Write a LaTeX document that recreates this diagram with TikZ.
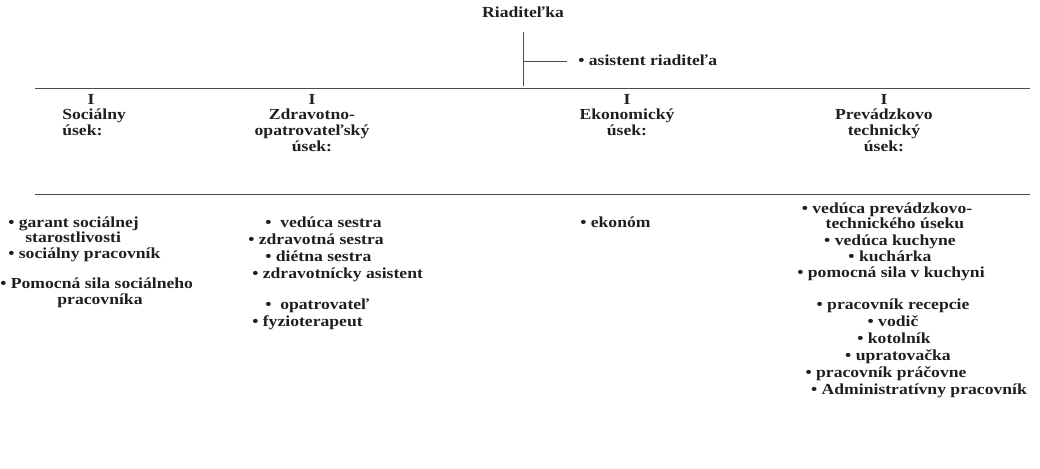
\documentclass[tikz,border=0pt]{standalone}
\usepackage{fontspec}
\setmainfont{Liberation Serif}[FakeStretch=1.15]

\tikzset{
  txt/.style={font=\fontsize{10.9}{11.3}\selectfont\bfseries, inner sep=0pt, text=black!88},
  ln/.style={black!70, line width=0.6pt}
}

\begin{document}
\begin{tikzpicture}[x=0.025cm,y=-0.025cm]
	\useasboundingbox (0,0) rectangle (1040,468);
	\node[txt,anchor=base] (riad) at (523,17) {Riaditeľka};
	\node[txt,anchor=base west] (asist) at (578,65) {• asistent riaditeľa};
	\coordinate (vtop) at (523,32);
	\coordinate (vbot) at (523,86);
	\coordinate (br) at (523,61);
	\coordinate (brend) at (567,61);
	\draw[ln] (vtop) -- (vbot);
	\draw[ln] (br) -- (brend);
	\coordinate (l1w) at (35,88);
	\coordinate (l1e) at (1030,88);
	\draw[ln] (l1w) -- (l1e);
	\node[txt,anchor=base] (i1) at (91,104) {I};
	\node[txt,anchor=base] (i2) at (312,104) {I};
	\node[txt,anchor=base] (i3) at (627,104) {I};
	\node[txt,anchor=base] (i4) at (884,104) {I};
	% base = last line
	\node[txt,anchor=base west,align=left] (soc) at (62,135) {Sociálny\\úsek:};
	\node[txt,anchor=base,align=center] (zdrav) at (312,151) {Zdravotno-\\opatrovateľský\\úsek:};
	\node[txt,anchor=base,align=center] (ekon) at (627,135) {Ekonomický\\úsek:};
	\node[txt,anchor=base,align=center] (prev) at (884,151) {Prevádzkovo\\technický\\úsek:};
	\coordinate (l2w) at (35,194);
	\coordinate (l2e) at (1030,194);
	\draw[ln] (l2w) -- (l2e);
	% socialny usek
	\node[txt,anchor=base west] (s1) at (8,227) {• garant sociálnej};
	\node[txt,anchor=base west] (s1b) at (25,242) {starostlivosti};
	\node[txt,anchor=base west] (s2) at (8,258) {• sociálny pracovník};
	\node[txt,anchor=base west] (s3) at (0,288) {• Pomocná sila sociálneho};
	\node[txt,anchor=base] (s3b) at (100,304) {pracovníka};
	% zdravotno-opatrovatelsky usek
	\node[txt,anchor=base west] (z1) at (265,227) {•\ \ vedúca sestra};
	\node[txt,anchor=base west] (z2) at (248,244) {• zdravotná sestra};
	\node[txt,anchor=base west] (z3) at (265,261) {• diétna sestra};
	\node[txt,anchor=base west] (z4) at (252,278) {• zdravotnícky asistent};
	\node[txt,anchor=base west] (z5) at (265,309) {•\ \ opatrovateľ};
	\node[txt,anchor=base west] (z6) at (252,326) {• fyzioterapeut};
	% ekonomicky usek
	\node[txt,anchor=base west] (e1) at (580,227) {• ekonóm};
	% prevadzkovo technicky usek
	\node[txt,anchor=base] (p1) at (887,213) {• vedúca prevádzkovo-};
	\node[txt,anchor=base] (p1b) at (895,228) {technického úseku};
	\node[txt,anchor=base] (p2) at (890,245) {• vedúca kuchyne};
	\node[txt,anchor=base] (p3) at (890,261) {• kuchárka};
	\node[txt,anchor=base] (p4) at (891,277) {• pomocná sila v kuchyni};
	\node[txt,anchor=base] (p5) at (893,309) {• pracovník recepcie};
	\node[txt,anchor=base] (p6) at (893,326) {• vodič};
	\node[txt,anchor=base] (p7) at (894,343) {• kotolník};
	\node[txt,anchor=base] (p8) at (898,360) {• upratovačka};
	\node[txt,anchor=base] (p9) at (886,377) {• pracovník práčovne};
	\node[txt,anchor=base] (p10) at (919,394) {• Administratívny pracovník};
\end{tikzpicture}
\end{document}
